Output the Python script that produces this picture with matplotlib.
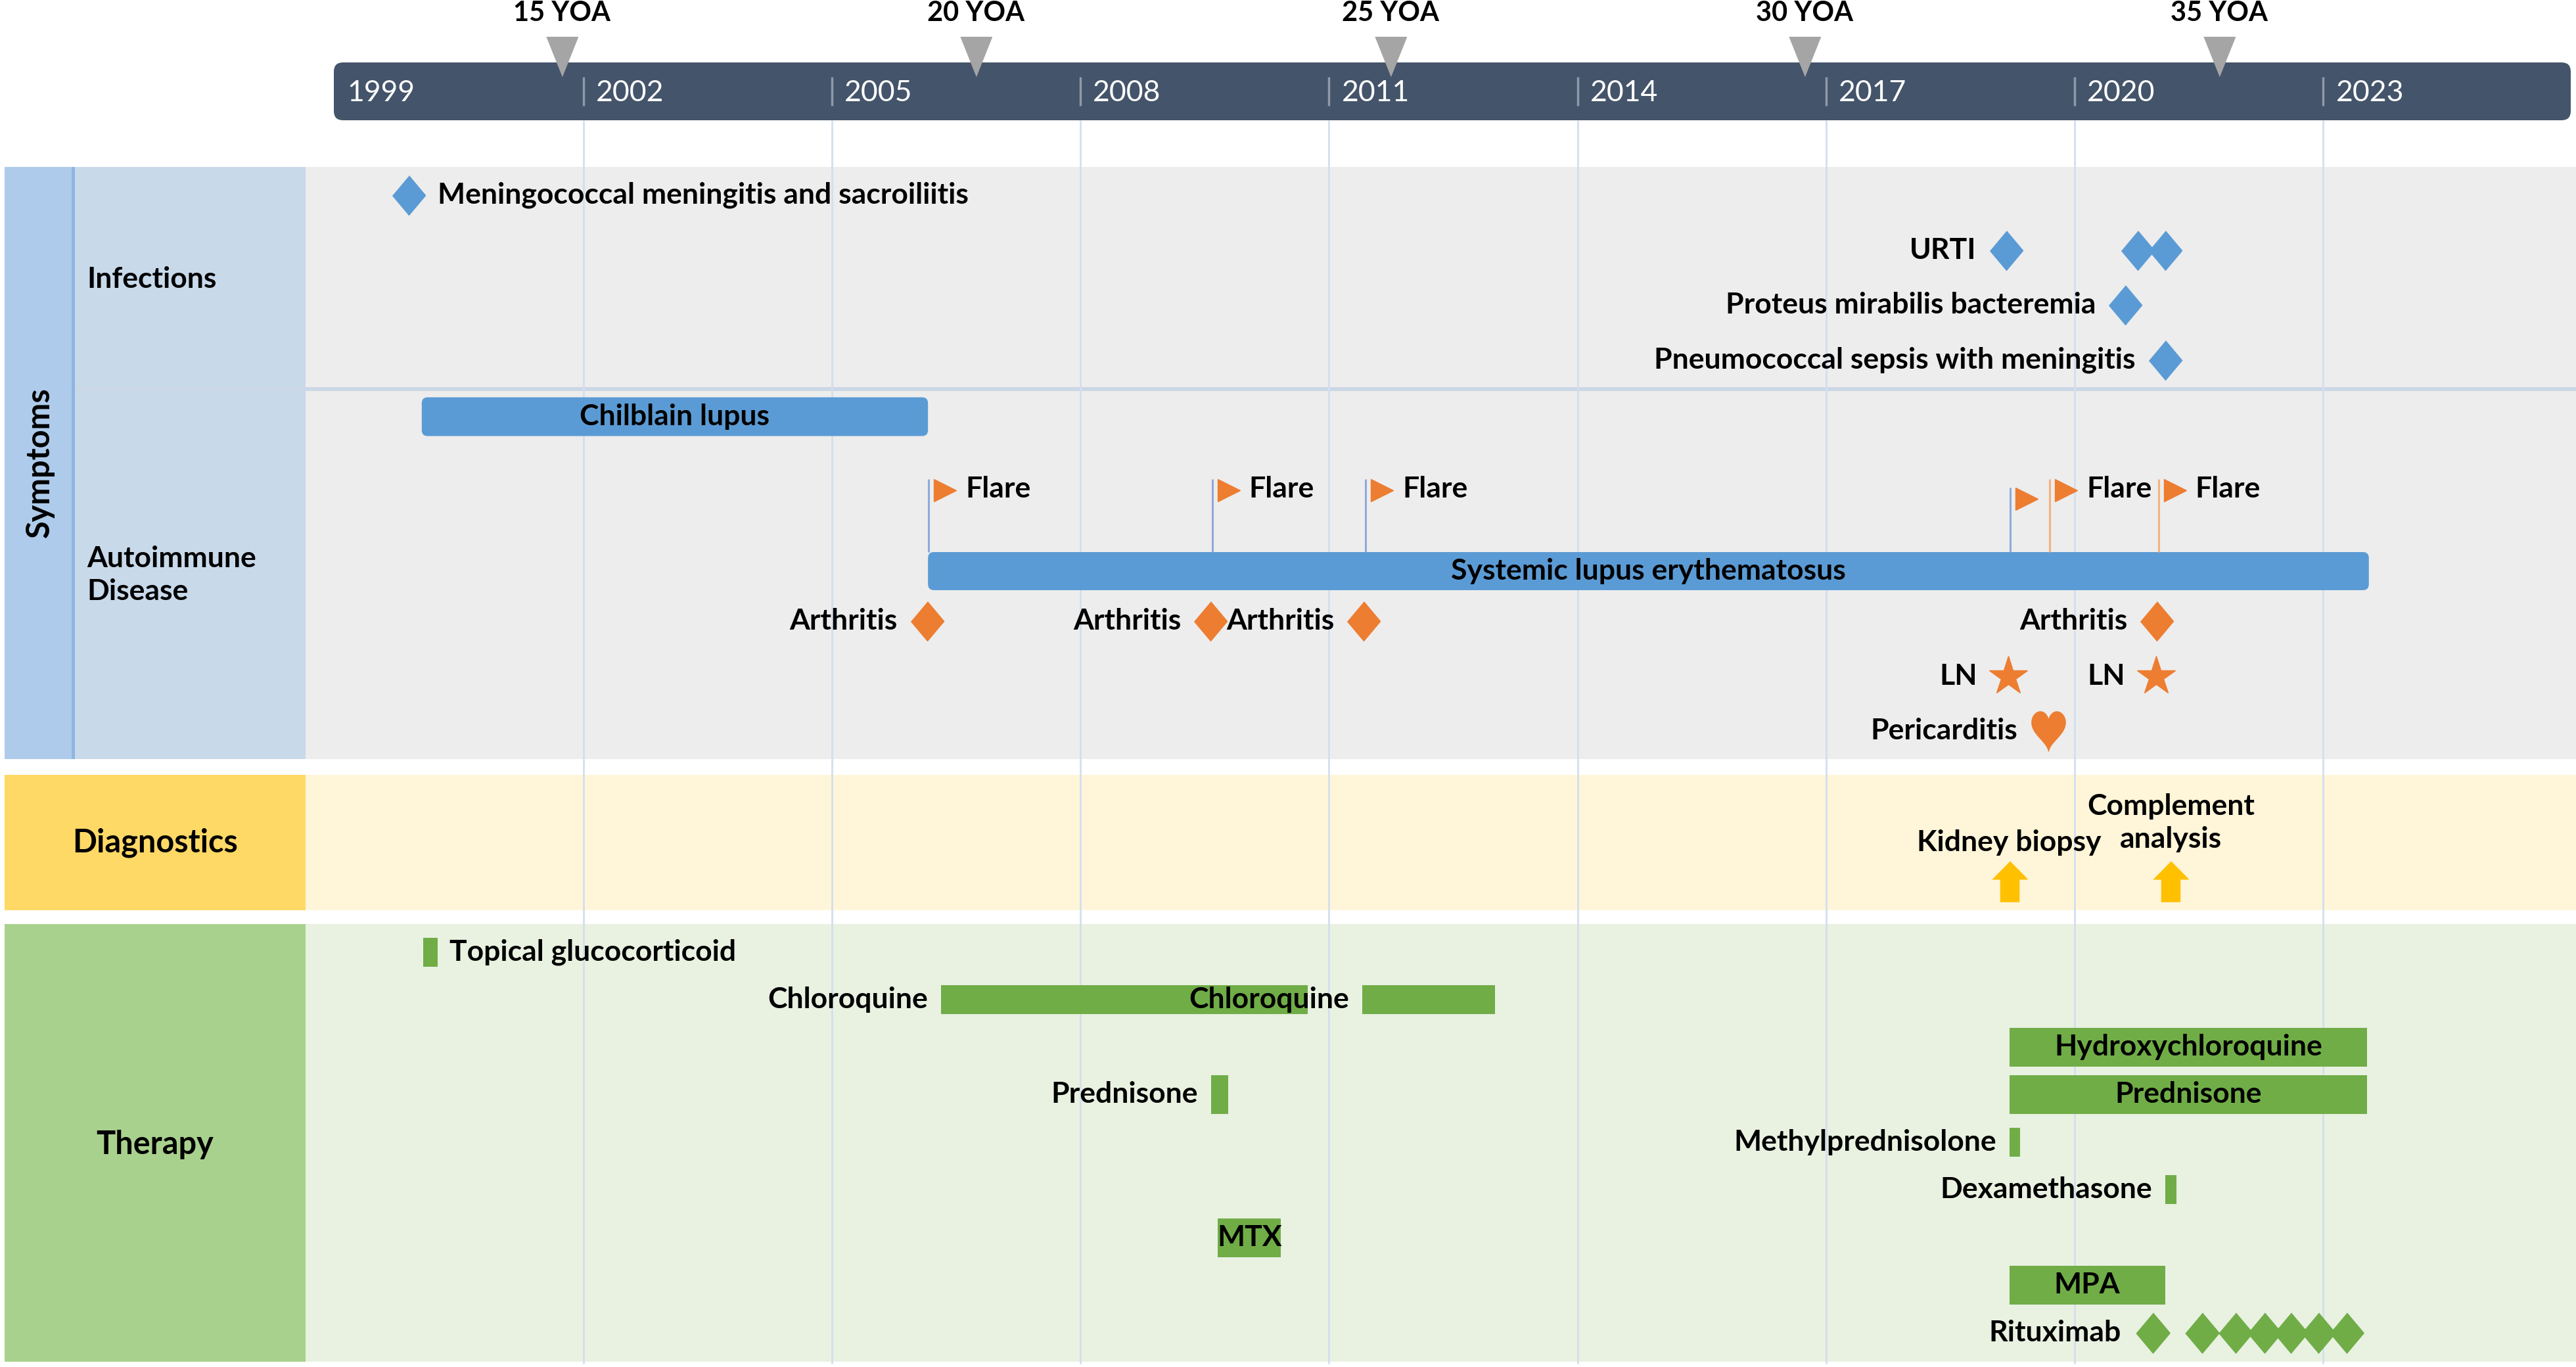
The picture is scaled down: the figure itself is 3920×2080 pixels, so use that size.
import numpy as np
import matplotlib.pyplot as plt
from matplotlib.patches import FancyBboxPatch, Rectangle
import matplotlib.transforms as mtransforms

plt.rcParams['font.family'] = ['Lato', 'DejaVu Sans']

# ---------------- data ----------------
year_ticks = [1999, 2002, 2005, 2008, 2011, 2014, 2017, 2020, 2023]
age_labels = ['15 YOA', '20 YOA', '25 YOA', '30 YOA', '35 YOA']
age_dates = [2001.74, 2006.74, 2011.74, 2016.74, 2021.74]

infection_names = ['Meningococcal meningitis and sacroiliitis', 'URTI',
                   'Proteus mirabilis bacteremia', 'Pneumococcal sepsis with meningitis']
infection_dates = [[1999.89], [2019.17, 2020.76, 2021.09], [2020.61], [2021.09]]

chilblain_span = [2000.05, 2006.16]
sle_span = [2006.16, 2023.55]
flare_dates = [2006.17, 2009.59, 2011.44, 2019.22, 2019.70, 2021.01]
flare_named = [True, True, True, False, True, True]
flare_late = [False, False, False, False, True, True]
arthritis_dates = [2006.15, 2009.57, 2011.42, 2020.99]
ln_dates = [2019.20, 2020.98]
pericarditis_dates = [2019.68]

diag_names = ['Kidney biopsy', 'Complement\nanalysis']
diag_dates = [2019.21, 2021.16]

drug_names = ['Topical glucocorticoid', 'Chloroquine', 'Chloroquine', 'Hydroxychloroquine',
              'Prednisone', 'Prednisone', 'Methylprednisolone', 'Dexamethasone', 'MTX', 'MPA']
drug_row = [0, 1, 1, 2, 3, 3, 4, 5, 6, 7]
drug_start = [2000.07, 2006.32, 2011.40, 2019.21, 2009.58, 2019.21, 2019.21, 2021.09, 2009.66, 2019.21]
drug_end = [2000.24, 2010.74, 2013.00, 2023.53, 2009.78, 2023.53, 2019.34, 2021.23, 2010.42, 2021.09]
drug_inside = [False, False, False, True, False, True, False, False, True, True]
rituximab_dates = [2020.94, 2021.54, 2021.94, 2022.29, 2022.61, 2022.94, 2023.28]

# ---------------- layout ----------------
W, H = 3920, 2080
X0, X1 = 1994.96, 2026.05
K = W / (X1 - X0)          # pixels per year


def px(x):
    return X0 + x / K


FS = 32
BLUE, ORANGE, GREEN, GOLD = '#5B9BD5', '#ED7D31', '#70AD47', '#FFC000'
INF_Y = [297, 381, 464, 548]
THER_Y = [1449, 1521, 1593, 1665, 1738, 1810, 1883, 1955, 2028]
THIN_ROWS = [0, 1, 4, 5]
FLAG_TOP, SLE_TOP, SLE_BOT = 729, 840, 898
FLAG_DROP = [0, 0, 0, 13, 0, 0]

diamond = [(0, 1), (0.84, 0), (0, -1), (-0.84, 0)]
t = np.linspace(0, 2 * np.pi, 80)
heart = np.column_stack([16 * np.sin(t) ** 3,
                         1.3 * (13 * np.cos(t) - 5 * np.cos(2 * t) - 2 * np.cos(3 * t) - np.cos(4 * t)) + 3])
up_arrow = [(0, 1), (0.87, 0.12), (0.46, 0.12), (0.46, -1), (-0.46, -1), (-0.46, 0.12), (-0.87, 0.12)]

fig = plt.figure(figsize=(W / 100, H / 100), dpi=100)
ax = fig.add_axes([0, 0, 1, 1])
ax.set_xlim(X0, X1)
ax.set_ylim(H, 0)
ax.axis('off')


def rect(x0, x1, y0, y1, color, z=0):
    ax.add_patch(Rectangle((px(x0), y0), (x1 - x0) / K, y1 - y0, facecolor=color, edgecolor='none', zorder=z))


def label(x, y, s, dx=0, ha='left', **kw):
    ax.annotate(s, (x, y), xytext=(dx, 0), textcoords='offset pixels', ha=ha, va='center',
                fontsize=FS, fontweight='bold', zorder=6, **kw)


# section backgrounds
rect(7, 109, 254, 1155, '#AECBEB')
rect(109, 114, 254, 1155, '#8FB5E2')
rect(114, 465, 254, 1155, '#C8D9EA')
rect(465, W, 254, 1155, '#EDEDED')
rect(114, W, 589, 595, '#CCD7E6', z=0.5)
rect(7, 465, 1179, 1385, '#FFD966')
rect(465, W, 1179, 1385, '#FFF5D9')
rect(7, 465, 1406, 2072, '#A9D18E')
rect(465, W, 1406, 2072, '#E9F1E1')

ax.text(px(60), 704, 'Symptoms', rotation=90, ha='center', va='center', fontsize=FS + 3, fontweight='bold')
ax.text(px(132), 425, 'Infections', ha='left', va='center', fontsize=FS, fontweight='bold')
ax.text(px(132), 875, 'Autoimmune\nDisease', ha='left', va='center', fontsize=FS, fontweight='bold', linespacing=1.3)
ax.text(px(236), 1282, 'Diagnostics', ha='center', va='center', fontsize=FS + 3, fontweight='bold')
ax.text(px(236), 1741, 'Therapy', ha='center', va='center', fontsize=FS + 3, fontweight='bold')

# year gridlines
ax.vlines(year_ticks[1:], 183, 2075, color='#D3DFEE', lw=2, zorder=1)

# timeline bar
ax.add_patch(FancyBboxPatch((px(508), 95), (3912 - 508) / K, 88,
                            boxstyle='round,pad=0,rounding_size=%f' % (14 / K),
                            mutation_aspect=K, facecolor='#44546A', edgecolor='none', zorder=2))
ax.vlines(year_ticks[1:], 117, 161, color='#8E99AA', lw=2.5, zorder=3)
for yr in year_ticks:
    ax.annotate(str(yr), (yr, 141), xytext=(19, 0), textcoords='offset pixels', ha='left', va='center',
                fontsize=32, color='white', zorder=4)

# age markers
ax.plot(age_dates, [86] * len(age_dates), linestyle='none', marker=[(-0.8, 1), (0.8, 1), (0, -1)],
        markersize=43, color='#A5A5A5', zorder=3, clip_on=False)
for d, s in zip(age_dates, age_labels):
    ax.text(d, 20, s, ha='center', va='center', fontsize=30, fontweight='bold')

# infections
for i, (name, dates) in enumerate(zip(infection_names, infection_dates)):
    ax.plot(dates, [INF_Y[i]] * len(dates), linestyle='none', marker=diamond, markersize=43,
            color=BLUE, zorder=4)
    if i == 0:
        label(dates[0], INF_Y[i], name, dx=44)
    else:
        label(dates[0], INF_Y[i], name, dx=-45, ha='right')

# autoimmune disease bars
for span, yc, h, name in [(chilblain_span, 634, 59, 'Chilblain lupus'),
                          (sle_span, (SLE_TOP + SLE_BOT) / 2, SLE_BOT - SLE_TOP, 'Systemic lupus erythematosus')]:
    ax.add_patch(FancyBboxPatch((span[0], yc - h / 2), span[1] - span[0], h,
                                boxstyle='round,pad=0,rounding_size=%f' % (9 / K),
                                mutation_aspect=K, facecolor=BLUE, edgecolor='none', zorder=3))
    ax.text((span[0] + span[1]) / 2, yc, name, ha='center', va='center', fontsize=FS, fontweight='bold', zorder=6)

# flares
flag_tr = mtransforms.offset_copy(ax.transData, fig=fig, x=25, y=0, units='dots')
for d, named, late, drop in zip(flare_dates, flare_named, flare_late, FLAG_DROP):
    top = FLAG_TOP + drop
    ax.vlines(d, top, SLE_TOP, color='#F4B183' if late else '#8FAADC', lw=2.2, zorder=3)
    ax.plot(d, top + 17, marker='>', markersize=24, color=ORANGE, transform=flag_tr, zorder=4)
    if named:
        label(d, top + 15, 'Flare', dx=56)

ax.plot(arthritis_dates, [945] * len(arthritis_dates), linestyle='none', marker=diamond,
        markersize=43, color=ORANGE, zorder=4)
for d in arthritis_dates:
    label(d, 945, 'Arthritis', dx=-45, ha='right')
ax.plot(ln_dates, [1029] * len(ln_dates), linestyle='none', marker='*', markersize=44,
        color=ORANGE, zorder=4)
for d in ln_dates:
    label(d, 1029, 'LN', dx=-47, ha='right')
ax.plot(pericarditis_dates, [1112], linestyle='none', marker=heart, markersize=44,
        color=ORANGE, zorder=4)
label(pericarditis_dates[0], 1112, 'Pericarditis', dx=-47, ha='right')

# diagnostics
ax.plot(diag_dates, [1341] * len(diag_dates), linestyle='none', marker=up_arrow, markersize=44,
        color=GOLD, zorder=4)
ax.text(diag_dates[0], 1282, diag_names[0], ha='center', va='center', fontsize=FS, fontweight='bold', zorder=6)
ax.text(diag_dates[1], 1252, diag_names[1], ha='center', va='center', fontsize=FS, fontweight='bold',
        linespacing=1.3, zorder=6)

# therapy
for name, row, s, e, inside in zip(drug_names, drug_row, drug_start, drug_end, drug_inside):
    h = 44 if row in THIN_ROWS else 59
    ax.barh(THER_Y[row], e - s, left=s, height=h, color=GREEN, zorder=3)
    if inside:
        ax.text((s + e) / 2, THER_Y[row], name, ha='center', va='center', fontsize=FS, fontweight='bold', zorder=6)
    elif row == 0:
        label(e, THER_Y[row], name, dx=18)
    else:
        label(s, THER_Y[row], name, dx=-20, ha='right')

ax.plot(rituximab_dates, [THER_Y[8]] * len(rituximab_dates), linestyle='none', marker=diamond,
        markersize=44, color=GREEN, zorder=4)
label(rituximab_dates[0], THER_Y[8], 'Rituximab', dx=-48, ha='right')

fig.savefig('out.png', dpi=100)
